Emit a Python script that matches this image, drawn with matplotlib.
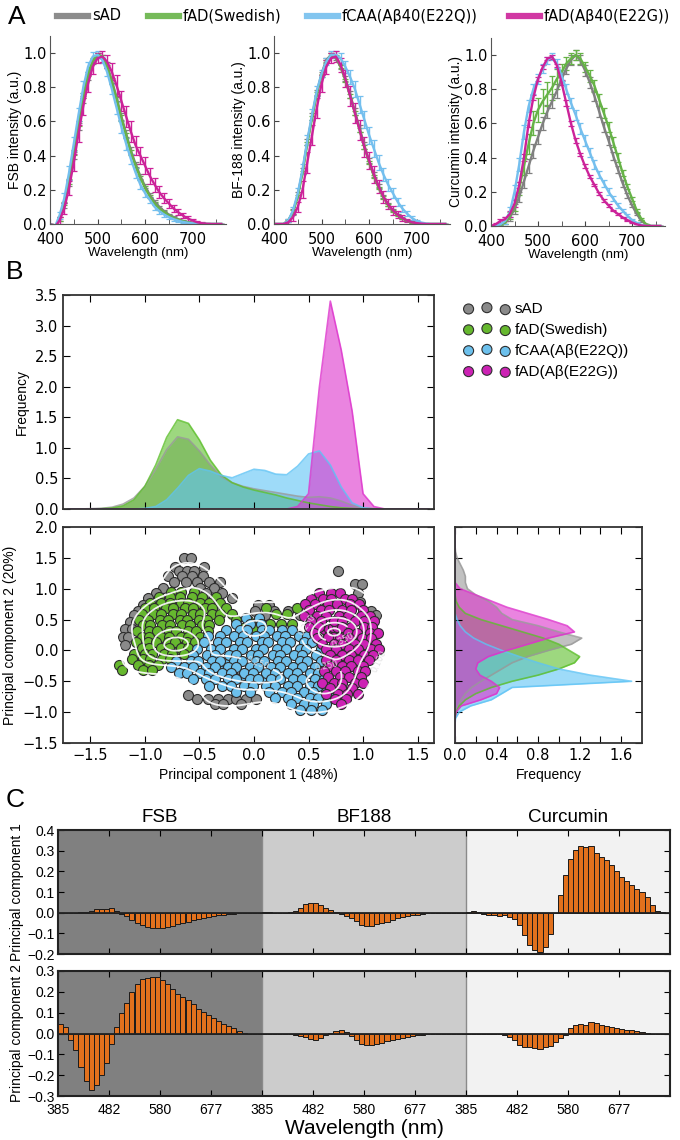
import numpy as np
import matplotlib
matplotlib.use('Agg')
import matplotlib.pyplot as plt
from matplotlib.lines import Line2D

plt.rcParams['font.family'] = ['DejaVu Sans']
LAB = ['Liberation Sans', 'DejaVu Sans']
NARROW = ['Liberation Sans Narrow', 'Liberation Sans', 'DejaVu Sans']

# ---------------- panel A : normalised emission spectra ----------------
wl = np.arange(400, 770, 10)
a_groups = ['sAD', 'fAD(Swedish)', 'fCAA(Aβ40(E22Q))', 'fAD(Aβ40(E22G))']

fsb_sad = [0.0, -0.02, 0.03, 0.11, 0.24, 0.40, 0.57, 0.73, 0.86, 0.95, 0.99, 0.98, 0.93, 0.84, 0.74, 0.63, 0.53, 0.43, 0.35, 0.28,
           0.22, 0.17, 0.13, 0.10, 0.075, 0.055, 0.04, 0.028, 0.018, 0.011, 0.006, 0.003, 0.001, 0, 0, 0, 0]
fsb_swe = [0.0, -0.02, 0.03, 0.12, 0.25, 0.42, 0.59, 0.75, 0.88, 0.96, 0.99, 0.98, 0.92, 0.83, 0.73, 0.62, 0.52, 0.42, 0.34, 0.27,
           0.21, 0.16, 0.12, 0.09, 0.07, 0.05, 0.035, 0.025, 0.016, 0.01, 0.005, 0.002, 0.001, 0, 0, 0, 0]
fsb_e22q = [0.0, -0.02, 0.05, 0.15, 0.30, 0.47, 0.64, 0.80, 0.92, 0.98, 0.99, 0.96, 0.89, 0.79, 0.68, 0.57, 0.47, 0.38, 0.30, 0.23,
            0.18, 0.14, 0.10, 0.075, 0.055, 0.04, 0.028, 0.019, 0.012, 0.007, 0.004, 0.002, 0.001, 0, 0, 0, 0]
fsb_e22g = [0.0, -0.02, 0.02, 0.09, 0.21, 0.36, 0.53, 0.69, 0.82, 0.92, 0.97, 0.98, 0.95, 0.89, 0.81, 0.72, 0.63, 0.54, 0.46, 0.40,
            0.34, 0.28, 0.23, 0.185, 0.15, 0.12, 0.09, 0.068, 0.048, 0.032, 0.02, 0.01, 0.004, 0.001, 0, 0, 0]
fsb_sad_err = [0, .005, .01, .015, .02, .02, .02, .02, .015, .015, .01, .01, .015, .015, .02, .02, .02, .02, .015, .015,
               .012, .01, .01, .008, .007, .006, .005, .004, .003, .002, .002, .001, 0, 0, 0, 0, 0]
fsb_swe_err = [0, .005, .01, .01, .015, .015, .015, .015, .012, .01, .01, .01, .01, .012, .015, .015, .015, .015, .012, .01,
               .01, .008, .007, .006, .005, .004, .003, .003, .002, .002, .001, .001, 0, 0, 0, 0, 0]
fsb_e22q_err = [0, .01, .02, .03, .04, .04, .04, .035, .03, .025, .02, .02, .025, .03, .035, .035, .035, .03, .03, .025,
                .02, .02, .018, .015, .012, .01, .008, .006, .005, .004, .003, .002, .001, 0, 0, 0, 0]
fsb_e22g_err = [0, .01, .02, .03, .04, .05, .05, .05, .05, .04, .03, .03, .04, .05, .06, .06, .06, .06, .055, .05,
                .05, .045, .04, .035, .03, .025, .02, .018, .015, .012, .01, .008, .005, .002, 0, 0, 0]

bf_sad = [0, 0, 0, .02, .07, .17, .31, .48, .63, .77, .88, .96, .99, .97, .92, .85, .76, .66, .56, .46,
          .37, .29, .22, .16, .115, .08, .055, .035, .02, .01, .005, .002, 0, 0, 0, 0, 0]
bf_swe = [0, 0, 0, .02, .07, .16, .30, .47, .62, .76, .87, .95, .99, .98, .92, .84, .75, .65, .55, .45,
          .36, .28, .21, .155, .11, .075, .05, .032, .018, .009, .004, .001, 0, 0, 0, 0, 0]
bf_e22q = [0, 0, 0, .02, .08, .18, .32, .49, .64, .78, .88, .95, .99, .99, .97, .92, .86, .79, .70, .61,
           .52, .44, .36, .29, .23, .18, .13, .09, .06, .035, .018, .008, .002, 0, 0, 0, 0]
bf_e22g = [0, 0, 0, .01, .04, .10, .20, .36, .52, .68, .82, .92, .97, .98, .93, .85, .75, .65, .55, .45,
           .37, .29, .22, .16, .115, .08, .055, .035, .02, .01, .005, .002, 0, 0, 0, 0, 0]
bf_sad_err = [0, 0, 0, .01, .015, .02, .02, .02, .02, .015, .01, .01, .01, .01, .015, .015, .02, .02, .02, .02,
              .015, .015, .012, .01, .008, .006, .005, .004, .003, .002, .001, 0, 0, 0, 0, 0, 0]
bf_swe_err = [0, 0, 0, .005, .01, .01, .01, .01, .01, .01, .008, .008, .008, .008, .01, .01, .01, .01, .01, .01,
              .01, .008, .007, .006, .005, .004, .003, .002, .002, .001, .001, 0, 0, 0, 0, 0, 0]
bf_e22q_err = [0, 0, 0, .01, .02, .03, .03, .03, .03, .03, .02, .02, .02, .02, .03, .035, .04, .045, .05, .05,
               .05, .05, .045, .04, .035, .03, .025, .02, .015, .01, .008, .005, .002, 0, 0, 0, 0]
bf_e22g_err = [0, 0, 0, .01, .02, .03, .05, .06, .06, .06, .05, .04, .03, .03, .04, .05, .06, .06, .06, .06,
               .05, .05, .04, .035, .03, .025, .02, .015, .01, .008, .005, .002, 0, 0, 0, 0, 0]

cur_sad = [0, 0, .01, .02, .05, .10, .17, .26, .35, .44, .52, .60, .67, .73, .79, .86, .92, .97, 1.0, .97,
           .91, .84, .76, .67, .58, .50, .41, .33, .25, .18, .12, .07, .03, .01, 0, 0, 0]
cur_swe = [0, 0, .01, .02, .06, .12, .22, .35, .48, .60, .68, .73, .77, .81, .86, .90, .95, .98, 1.0, .98,
           .93, .88, .82, .74, .66, .58, .49, .40, .31, .23, .16, .09, .04, .01, 0, 0, 0]
cur_e22q = [0, .005, .01, .03, .08, .20, .36, .55, .70, .80, .86, .92, .97, .99, .95, .88, .80, .72, .65, .57,
            .50, .43, .36, .30, .25, .20, .16, .12, .09, .06, .035, .018, .006, 0, 0, 0, 0]
cur_e22g = [0, .01, .03, .04, .07, .13, .24, .40, .60, .75, .86, .93, .98, .99, .94, .84, .72, .60, .50, .42,
            .35, .29, .24, .19, .15, .12, .09, .07, .05, .035, .02, .01, .003, 0, 0, 0, 0]
cur_sad_err = [0, 0, .005, .01, .02, .03, .03, .04, .04, .04, .04, .04, .04, .04, .04, .035, .03, .03, .03, .03,
               .03, .03, .03, .03, .03, .025, .025, .02, .02, .015, .01, .008, .005, .002, 0, 0, 0]
cur_swe_err = [0, 0, .005, .01, .02, .03, .04, .05, .06, .07, .07, .07, .07, .07, .06, .05, .04, .03, .03, .03,
               .03, .035, .035, .035, .03, .03, .03, .025, .02, .015, .012, .008, .005, .002, 0, 0, 0]
cur_e22q_err = [0, .005, .01, .02, .03, .04, .04, .04, .035, .03, .03, .025, .02, .02, .025, .03, .03, .03, .03, .03,
                .03, .025, .025, .02, .02, .02, .015, .015, .01, .008, .006, .004, .002, 0, 0, 0, 0]
cur_e22g_err = [0, .005, .01, .01, .015, .02, .02, .02, .02, .015, .01, .01, .01, .01, .01, .015, .015, .015, .012, .01,
                .01, .01, .008, .008, .007, .006, .005, .004, .003, .003, .002, .001, 0, 0, 0, 0, 0]

# ---------------- panel B : PCA scores and densities ----------------
b_groups = ['sAD', 'fAD(Swedish)', 'fCAA(Aβ(E22Q))', 'fAD(Aβ(E22G))']

pc1_grid = np.round(np.arange(-17, 17) / 10, 1)
pc1_sad = [0, 0, .005, .01, .03, .08, .18, .37, .65, .97, 1.18, 1.14, .95, .72, .53, .43, .37, .33, .30, .27,
           .24, .21, .19, .20, .18, .13, .06, .02, .005, 0, 0, 0, 0, 0]
pc1_swe = [0, 0, 0, .005, .015, .05, .15, .37, .72, 1.17, 1.46, 1.40, 1.13, .80, .56, .43, .36, .31, .27, .23,
           .18, .14, .10, .07, .04, .02, .01, 0, 0, 0, 0, 0, 0, 0]
pc1_e22q = [0, 0, 0, 0, 0, 0, 0, .01, .04, .15, .34, .55, .66, .62, .55, .51, .58, .65, .63, .57,
            .56, .70, .90, .95, .72, .36, .10, .02, 0, 0, 0, 0, 0, 0]
pc1_e22g = [0, 0, 0, 0, 0, 0, 0, 0, 0, 0, 0, 0, 0, 0, 0, 0, 0, 0, 0, 0,
            0, .04, .25, 2.0, 3.4, 2.6, 1.6, .25, .04, 0, 0, 0, 0, 0]

pc2_grid = np.round(np.arange(-15, 21) / 10, 1)
pc2_sad = [0, 0, 0, 0, 0, .01, .03, .06, .10, .16, .25, .35, .45, .55, .70, .90, 1.12, 1.22, 1.0, .80,
           .55, .45, .40, .32, .20, .12, .10, .10, .08, .05, .02, .005, 0, 0, 0, 0]
pc2_swe = [0, 0, 0, 0, 0, .01, .04, .10, .20, .35, .55, .80, 1.0, 1.15, 1.2, 1.1, 1.0, .85, .65, .45,
           .25, .10, .04, .01, 0, 0, 0, 0, 0, 0, 0, 0, 0, 0, 0, 0]
pc2_e22q = [0, 0, 0, 0, .005, .04, .15, .35, .45, .55, 1.7, 1.3, 1.0, .8, .62, .45, .3, .18, .1, .05,
            .02, 0, 0, 0, 0, 0, 0, 0, 0, 0, 0, 0, 0, 0, 0, 0]
pc2_e22g = [0, 0, 0, 0, 0, .01, .06, .25, .4, .43, .35, .24, .2, .22, .32, .5, .7, .9, 1.15, 1.08,
            .9, .7, .5, .35, .2, .05, 0, 0, 0, 0, 0, 0, 0, 0, 0, 0]

# scores, written as rows: (PC2, [PC1, ...])
sad_rows = [
    (1.49, [-0.64, -0.58]), (1.35, [-0.72, -0.46]), (1.28, [-0.69, -0.61, -0.55, 0.77]),
    (1.20, [-0.79, -0.66, -0.57, -0.47]), (1.11, [-0.73, -0.62, -0.52, -0.41, -0.31]),
    (1.07, [0.93, 0.99]), (1.01, [-0.83, -0.49, -0.37]), (0.93, [-0.9, -0.44, -0.29, 0.95]),
    (0.85, [-0.97, -0.2]), (0.79, [0.97]), (0.73, [-1.02, 0.04, 0.14]),
    (0.64, [-1.06, 0.01, 0.18, 0.31, 1.07]), (0.57, [-1.1, 0.1, 0.42, 1.12]),
    (0.46, [-1.14, -1.08]), (0.34, [-1.18, -1.12]), (0.21, [-1.2, -1.15]), (0.08, [-1.18]),
    (-0.72, [-0.6]), (-0.79, [-0.52, -0.42, -0.33, -0.24, -0.16, -0.07, 0.02]),
    (-0.86, [-0.36, -0.28, -0.12]),
]
swe_rows = [
    (0.10, [-0.7, -0.66, -0.74, -0.62]), (0.14, [-0.66, -0.78]), (0.0, [-0.67, -0.8]),
    (0.94, [-0.76, -0.67, -0.55]), (0.86, [-0.87, -0.77, -0.68, -0.57, -0.48, -0.35]),
    (0.77, [-0.95, -0.85, -0.77, -0.67, -0.6, -0.49, -0.41, -0.31]),
    (0.68, [-1.0, -0.92, -0.81, -0.74, -0.63, -0.56, -0.45, -0.38, -0.26, 0.11, 0.39]),
    (0.59, [-1.03, -0.92, -0.85, -0.74, -0.67, -0.56, -0.49, -0.38, -0.31, -0.2, 0.2, 0.3]),
    (0.50, [-1.05, -0.97, -0.86, -0.79, -0.68, -0.61, -0.5, -0.43, -0.32, -0.16, -0.05, 0.05]),
    (0.43, [0.15, 0.25, 0.35]), (0.36, [-0.1, 0.0]),
    (0.41, [-1.02, -0.95, -0.84, -0.77, -0.66, -0.59, -0.48, -0.41]),
    (0.32, [-1.07, -0.96, -0.89, -0.78, -0.71, -0.6, -0.53, -0.42]),
    (0.22, [-1.03, -0.96, -0.85, -0.78, -0.67, -0.6, -0.49]),
    (0.13, [-1.08, -0.97, -0.9, -0.79, -0.72, -0.61, -0.54]),
    (0.04, [-1.03, -0.96, -0.85, -0.78, -0.67, -0.6]),
    (-0.05, [-1.1, -1.0, -0.93, -0.82, -0.75, -0.64]),
    (-0.14, [-1.12, -1.02, -0.95, -0.84, -0.77]),
    (-0.23, [-1.24, -1.06, -0.96, -0.88]), (-0.32, [-1.21, -1.02, -0.93]),
]
e22q_rows = [
    (-0.30, [-0.3, -0.4]), (-0.35, [-0.2]), (-0.40, [-0.1]), (-0.42, [0.0]), (-0.45, [0.1]),
    (-0.50, [0.2]), (-0.22, [-0.25]),
    (0.52, [-0.07, 0.05]), (0.43, [-0.16, -0.04, 0.06]),
    (0.33, [-0.26, -0.13, -0.06, 0.07, 0.14, 0.26, 0.35]),
    (0.23, [-0.42, -0.31, -0.18, -0.1, 0.02, 0.09, 0.21, 0.28, 0.41, 0.49]),
    (0.13, [-0.46, -0.33, -0.26, -0.13, -0.06, 0.07, 0.13, 0.26, 0.33, 0.46, 0.53]),
    (0.03, [-0.52, -0.39, -0.31, -0.18, -0.11, 0.02, 0.08, 0.21, 0.29, 0.42, 0.48, 0.61]),
    (-0.07, [-0.56, -0.43, -0.36, -0.23, -0.16, -0.03, 0.04, 0.17, 0.24, 0.37, 0.44, 0.57]),
    (-0.17, [-0.71, -0.58, -0.51, -0.38, -0.31, -0.18, -0.11, 0.02, 0.09, 0.22, 0.29, 0.42, 0.49, 0.61]),
    (-0.27, [-0.76, -0.64, -0.56, -0.44, -0.36, -0.24, -0.16, -0.04, 0.04, 0.16, 0.24, 0.36, 0.44, 0.56]),
    (-0.37, [-0.69, -0.61, -0.49, -0.41, -0.29, -0.21, -0.09, -0.01, 0.11, 0.19, 0.31, 0.39, 0.51, 0.59]),
    (-0.47, [-0.56, -0.44, -0.36, -0.24, -0.16, -0.04, 0.04, 0.16, 0.24, 0.36, 0.44, 0.56, 0.64]),
    (-0.57, [-0.41, -0.29, -0.21, -0.09, -0.01, 0.11, 0.19, 0.31, 0.39, 0.51, 0.59]),
    (-0.67, [-0.16, -0.04, 0.14, 0.26, 0.34, 0.46, 0.54, 0.66]),
    (-0.77, [0.19, 0.31, 0.39, 0.51, 0.59, 0.71]), (-0.87, [0.34, 0.46, 0.54, 0.66]),
    (-0.97, [0.42, 0.52, 0.62]),
]
e22g_rows = [
    (0.30, [0.72, 0.69, 0.67, 0.75, 0.77]), (0.26, [0.7, 0.75, 0.8]), (0.34, [0.64, 0.69, 0.74]),
    (0.22, [0.72, 0.68]), (0.38, [0.72, 0.76]),
    (0.93, [0.6, 0.71, 0.79]), (0.84, [0.52, 0.63, 0.71, 0.83, 0.9]),
    (0.75, [0.47, 0.56, 0.68, 0.76, 0.88, 0.96]), (0.65, [0.5, 0.61, 0.69, 0.81, 0.89, 1.0]),
    (0.56, [0.46, 0.58, 0.66, 0.78, 0.86, 0.98, 1.06]), (0.47, [0.52, 0.61, 0.73, 0.81, 0.93, 1.01, 1.1]),
    (0.38, [0.5, 0.6, 0.81, 0.89, 1.01, 1.08]), (0.29, [0.55, 0.86, 0.94, 1.06, 1.14]),
    (0.20, [0.58, 0.79, 0.87, 0.99, 1.07]), (0.11, [0.62, 0.73, 0.81, 0.93, 1.01, 1.12]),
    (0.02, [0.66, 0.75, 0.87, 0.95, 1.07, 1.15]), (-0.07, [0.7, 0.81, 0.89, 1.01, 1.09]),
    (-0.16, [0.66, 0.75, 0.87, 0.95, 1.05]), (-0.25, [0.7, 0.81, 0.89, 1.0]),
    (-0.34, [0.64, 0.75, 0.83, 0.95, 1.02]), (-0.43, [0.68, 0.79, 0.87, 0.98]),
    (-0.52, [0.62, 0.73, 0.81, 0.93, 1.0]), (-0.61, [0.7, 0.8, 0.9]),
    (-0.70, [0.66, 0.77, 0.85, 0.95]), (-0.79, [0.74, 0.84]), (-0.87, [0.8]),
]

# ---------------- panel C : PCA loadings ----------------
c_dyes = ['FSB', 'BF188', 'Curcumin']
c_tick_names = ['385', '482', '580', '677']
fsb_pc1 = [0, 0, 0, 0, .002, .005, .01, .02, .02, .018, .025, .01, -.005, -.015, -.035, -.05, -.06, -.068, -.072, -.075,
           -.074, -.07, -.063, -.057, -.05, -.043, -.037, -.031, -.026, -.021, -.017, -.013, -.01, -.007, -.005, -.003, -.001, 0, 0, 0]
bf_pc1 = [.004, .003, 0, -.003, -.002, .002, .01, .025, .04, .048, .047, .038, .025, .012, .003, -.008, -.018, -.028, -.04, -.058,
          -.065, -.063, -.057, -.05, -.043, -.035, -.028, -.022, -.017, -.012, -.009, -.006, -.004, -.002, 0, 0, 0, 0, 0, 0]
cur_pc1 = [.005, .008, .003, -.005, -.01, -.012, -.015, -.01, -.02, -.03, -.06, -.11, -.155, -.18, -.188, -.165, -.105, -.003, .085, .18,
           .26, .305, .325, .32, .322, .29, .27, .255, .23, .2, .175, .155, .135, .115, .1, .075, .035, .01, .002, 0]
fsb_pc2 = [.045, .03, -.03, -.08, -.16, -.23, -.27, -.245, -.2, -.14, -.05, .03, .10, .145, .2, .24, .26, .265, .27, .27,
           .255, .24, .215, .19, .175, .16, .14, .12, .105, .09, .075, .06, .045, .035, .025, .01, .004, 0, 0, 0]
bf_pc2 = [0, 0, 0, 0, 0, -.003, -.008, -.012, -.018, -.025, -.033, -.02, -.008, .003, .01, .017, .008, -.01, -.03, -.048,
          -.057, -.055, -.05, -.044, -.038, -.032, -.026, -.021, -.016, -.012, -.009, -.006, -.004, -.002, -.001, 0, 0, 0, 0, 0]
cur_pc2 = [0, 0, 0, 0, -.002, -.003, -.004, -.005, -.015, -.03, -.055, -.065, -.067, -.07, -.075, -.065, -.06, -.04, -.02, -.005,
           .025, .04, .045, .04, .055, .05, .04, .035, .03, .025, .02, .018, .015, .01, .005, .002, 0, 0, 0, 0]

# ---------------- drawing ----------------
W, H = 680.0, 1140.0


def box(x0, y0, x1, y1):
    return [x0 / W, 1 - y1 / H, (x1 - x0) / W, (y1 - y0) / H]


def fx(x):
    return x / W


def fy(y):
    return 1 - y / H


def unpack(rows):
    xs, ys = [], []
    for y, row in rows:
        xs += row
        ys += [y] * len(row)
    return np.array(xs), np.array(ys)


fig = plt.figure(figsize=(6.8, 11.4), dpi=100)

a_cols = ['#808080', '#66b347', '#74bfee', '#cc2299']
fig.text(fx(8), fy(17), 'A', fontsize=19, family=LAB, va='center')
for xl, name, c in zip([57, 148, 307, 509], a_groups, a_cols):
    fig.add_artist(Line2D([fx(xl), fx(xl + 31)], [fy(16), fy(16)], color=c, lw=4.5, alpha=0.9))
    fig.text(fx(xl + 35), fy(16), name, fontsize=10.5, va='center')

a_panels = [
    ('FSB intensity (a.u.)', [fsb_sad, fsb_swe, fsb_e22q, fsb_e22g],
     [fsb_sad_err, fsb_swe_err, fsb_e22q_err, fsb_e22g_err], box(50, 36, 226, 224)),
    ('BF-188 intensity (a.u.)', [bf_sad, bf_swe, bf_e22q, bf_e22g],
     [bf_sad_err, bf_swe_err, bf_e22q_err, bf_e22g_err], box(274, 36, 450, 224)),
    ('Curcumin intensity (a.u.)', [cur_sad, cur_swe, cur_e22q, cur_e22g],
     [cur_sad_err, cur_swe_err, cur_e22q_err, cur_e22g_err], box(491, 38, 665, 226)),
]
for ylab, curves, errs, rect in a_panels:
    ax = fig.add_axes(rect)
    for y, e, c in zip(curves, errs, a_cols):
        ax.errorbar(wl, y, yerr=e, color=c, lw=1.7, elinewidth=1.0, capsize=2, capthick=0.9)
    ax.set_xlim(400, 770)
    ax.set_ylim(0, 1.1)
    for s in ['top', 'right']:
        ax.spines[s].set_visible(False)
    for s in ['left', 'bottom']:
        ax.spines[s].set_color('#555555')
        ax.spines[s].set_linewidth(0.8)
    ax.set_xticks([400, 500, 600, 700])
    ax.set_xticks([450, 550, 650, 750], minor=True)
    ax.set_yticks(np.arange(0, 1.01, 0.2))
    ax.yaxis.set_major_formatter('{x:.1f}')
    ax.tick_params(which='both', direction='in', labelsize=10.5, length=3.5,
                   colors='#444444', labelcolor='black')
    ax.tick_params(axis='y', pad=2.5)
    ax.tick_params(axis='x', pad=6)
    ax.set_xlabel('Wavelength (nm)', family=LAB, fontsize=9.5, labelpad=0)
    ax.set_ylabel(ylab, family=LAB, fontsize=10, labelpad=1)

# panel B
fig.text(fx(6), fy(272), 'B', fontsize=19, family=LAB, va='center')
kde_cols = ['#999999', '#5cbf2a', '#5ec3f5', '#dd33cc']
sc_cols = ['#8a8a8a', '#66b82e', '#6cc0ec', '#cc22b4']

ax_top = fig.add_axes(box(63, 295, 434, 509))
for v, c in zip([pc1_sad, pc1_swe, pc1_e22q, pc1_e22g], kde_cols):
    ax_top.fill_between(pc1_grid, 0, v, color=c, alpha=0.6, lw=0)
    ax_top.plot(pc1_grid, v, color=c, lw=1.2, alpha=0.8)
ax_top.set_xlim(-1.75, 1.65)
ax_top.set_ylim(0, 3.5)
ax_top.set_xticks(np.arange(-1.5, 1.6, 0.5))
ax_top.set_xticklabels([])
ax_top.set_yticks(np.arange(0, 3.6, 0.5))
ax_top.yaxis.set_major_formatter('{x:.1f}')
ax_top.set_ylabel('Frequency', family=LAB, fontsize=10)

ax_sc = fig.add_axes(box(63, 527, 434, 743))
handles = []
all_x, all_y = [], []
for k, rows in enumerate([sad_rows, swe_rows, e22q_rows, e22g_rows]):
    xs, ys = unpack(rows)
    all_x.append(xs)
    all_y.append(ys)
    h = ax_sc.scatter(xs, ys, s=52, c=sc_cols[k], edgecolors='#2e2e2e', linewidths=0.8, zorder=2 + k)
    handles.append(h)
all_x = np.concatenate(all_x)
all_y = np.concatenate(all_y)
gx, gy = np.meshgrid(np.linspace(-1.75, 1.65, 240), np.linspace(-1.5, 2.0, 240))
bw = 0.15
dens = np.zeros_like(gx)
for px, py in zip(all_x, all_y):
    dens += np.exp(-((gx - px) ** 2 + (gy - py) ** 2) / (2 * bw ** 2))
dens /= len(all_x) * 2 * np.pi * bw ** 2
cs = ax_sc.contour(gx, gy, dens, levels=[0.1, 0.2, 0.25, 0.3, 0.35, 0.4, 0.5, 0.6, 0.7],
                   colors='white', linewidths=1.3, alpha=0.9, zorder=10)
ax_sc.clabel(cs, cs.levels[::2], fmt='%.3f', fontsize=6, colors='#e0e0e0')
ax_sc.set_xlim(-1.75, 1.65)
ax_sc.set_ylim(-1.5, 2.0)
ax_sc.set_xticks(np.arange(-1.5, 1.6, 0.5))
ax_sc.set_yticks(np.arange(-1.5, 2.1, 0.5))
ax_sc.xaxis.set_major_formatter('{x:.1f}')
ax_sc.yaxis.set_major_formatter('{x:.1f}')
ax_sc.set_xlabel('Principal component 1 (48%)', family=LAB, fontsize=10)
ax_sc.set_ylabel('Principal component 2 (20%)', family=LAB, fontsize=10)

ax_side = fig.add_axes(box(455, 527, 642, 743))
for v, c in zip([pc2_sad, pc2_swe, pc2_e22q, pc2_e22g], kde_cols):
    ax_side.fill_betweenx(pc2_grid, 0, v, color=c, alpha=0.6, lw=0)
    ax_side.plot(v, pc2_grid, color=c, lw=1.2, alpha=0.8)
ax_side.set_xlim(0, 1.8)
ax_side.set_ylim(-1.5, 2.0)
ax_side.set_xticks(np.arange(0, 1.7, 0.2))
ax_side.set_xticklabels(['0.0', '', '0.4', '', '0.8', '', '1.2', '', '1.6'])
ax_side.set_yticks(np.arange(-1.5, 2.1, 0.5))
ax_side.set_yticklabels([])
ax_side.set_xlabel('Frequency', family=LAB, fontsize=10)

for ax in [ax_top, ax_sc, ax_side]:
    ax.tick_params(direction='in', top=True, right=True, labelsize=10.5, length=5)
    for s in ax.spines.values():
        s.set_linewidth(1.3)
        s.set_color('#333333')

fig.legend(handles, b_groups, loc='upper left', bbox_to_anchor=(fx(464), fy(302)), scatterpoints=3,
           frameon=False, prop={'family': LAB, 'size': 11}, handletextpad=0.3, labelspacing=0.45,
           borderaxespad=0, borderpad=0, handlelength=3.0)

# panel C
fig.text(fx(6), fy(800), 'C', fontsize=19, family=LAB, va='center')
pc_sets = [(fsb_pc1 + bf_pc1 + cur_pc1, (-0.2, 0.4), 'Principal component 1', box(58, 830, 670, 954)),
           (fsb_pc2 + bf_pc2 + cur_pc2, (-0.3, 0.3), 'Principal component 2', box(58, 971, 670, 1096))]
idx = np.arange(120)
for j, (vals, lims, ylab, rect) in enumerate(pc_sets):
    ax = fig.add_axes(rect)
    ax.axvspan(0, 40, color='#808080', lw=0, zorder=0)
    ax.axvspan(40, 80, color='#cccccc', lw=0, zorder=0)
    ax.axvspan(80, 120, color='#f2f2f2', lw=0, zorder=0)
    ax.axvline(40, color='#8a8a8a', lw=1, zorder=1)
    ax.axvline(80, color='#8a8a8a', lw=1, zorder=1)
    ax.bar(idx, vals, width=1, align='edge', color='#e2711d', edgecolor='#1a1a1a', lw=0.7, zorder=2)
    ax.axhline(0, color='#222222', lw=1.3, zorder=3)
    ax.set_xlim(0, 120)
    ax.set_ylim(*lims)
    ax.set_yticks(np.round(np.arange(lims[0], lims[1] + 0.001, 0.1), 1))
    ax.yaxis.set_major_formatter('{x:.1f}')
    ax.set_xticks(np.arange(0, 120, 10))
    if j == 1:
        ax.set_xticklabels(c_tick_names * 3)
    else:
        ax.set_xticklabels([])
    ax.tick_params(direction='in', top=True, right=True, length=4)
    ax.tick_params(axis='y', pad=2.5)
    ax.tick_params(axis='x', pad=5)
    for lab in ax.get_xticklabels() + ax.get_yticklabels():
        lab.set_family(NARROW)
        lab.set_fontsize(10)
    for s in ax.spines.values():
        s.set_linewidth(1.5)
        s.set_color('#222222')
    ax.set_ylabel(ylab, family=LAB, fontsize=10, labelpad=2)
    if j == 0:
        for k, name in enumerate(c_dyes):
            ax.text(20 + 40 * k, lims[1] + 0.02, name, ha='center', va='bottom', family=LAB, fontsize=13.5)

fig.text(fx(364), fy(1128), 'Wavelength (nm)', ha='center', va='center', family=LAB, fontsize=15)

fig.savefig('out.png', dpi=100)
